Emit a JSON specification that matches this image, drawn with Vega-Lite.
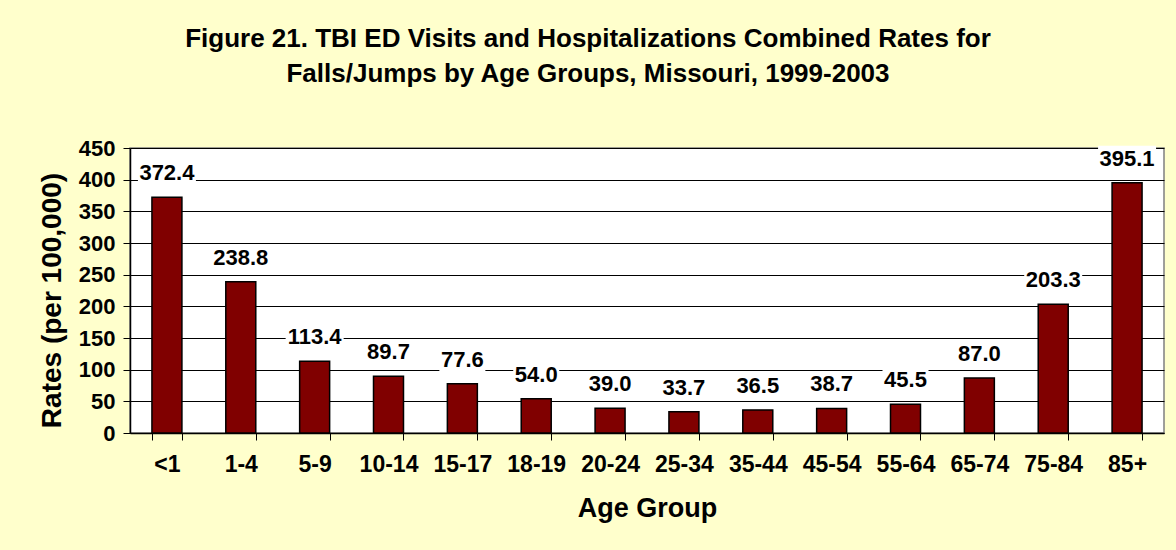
{
  "$schema": "https://vega.github.io/schema/vega-lite/v6.json",
  "width": 1034,
  "height": 285,
  "autosize": {"type": "none"},
  "padding": {"left": 130, "top": 148, "right": 12, "bottom": 117},
  "background": "#FFFFCC",
  "title": {
    "text": ["Figure 21. TBI ED Visits and Hospitalizations Combined Rates for", "Falls/Jumps by Age Groups, Missouri, 1999-2003"],
    "font": "Liberation Sans",
    "fontSize": 26,
    "fontWeight": "bold",
    "color": "black",
    "anchor": "middle",
    "dx": -59,
    "offset": 50,
    "lineHeight": 35
  },
  "config": {
    "view": {"stroke": "#808080", "fill": "white", "strokeWidth": 1.5},
    "axis": {
      "labelFont": "Liberation Sans",
      "labelFontWeight": "bold",
      "labelColor": "black",
      "titleFont": "Liberation Sans",
      "titleFontWeight": "bold",
      "titleColor": "black",
      "domainColor": "black",
      "tickColor": "black",
      "gridColor": "black",
      "gridWidth": 1
    }
  },
  "data": {
    "values": [
      {"age": "<1", "rate": 372.4},
      {"age": "1-4", "rate": 238.8},
      {"age": "5-9", "rate": 113.4},
      {"age": "10-14", "rate": 89.7},
      {"age": "15-17", "rate": 77.6},
      {"age": "18-19", "rate": 54.0},
      {"age": "20-24", "rate": 39.0},
      {"age": "25-34", "rate": 33.7},
      {"age": "35-44", "rate": 36.5},
      {"age": "45-54", "rate": 38.7},
      {"age": "55-64", "rate": 45.5},
      {"age": "65-74", "rate": 87.0},
      {"age": "75-84", "rate": 203.3},
      {"age": "85+", "rate": 395.1}
    ]
  },
  "encoding": {
    "x": {
      "field": "age",
      "type": "nominal",
      "sort": null,
      "scale": {"paddingInner": 0.594, "paddingOuter": 0.297},
      "axis": {
        "title": "Age Group",
        "titleFontSize": 27,
        "titlePadding": 19,
        "labelFontSize": 23,
        "labelAngle": 0,
        "labelPadding": 13,
        "tickSize": 7,
        "tickBand": "extent",
        "domainWidth": 1.5,
        "grid": false
      }
    },
    "y": {
      "field": "rate",
      "type": "quantitative",
      "scale": {"domain": [0, 450], "nice": false},
      "axis": {
        "title": "Rates (per 100,000)",
        "titleFontSize": 28,
        "titlePadding": 12,
        "titleY": 152,
        "labelFontSize": 22,
        "labelPadding": 8,
        "values": [0, 50, 100, 150, 200, 250, 300, 350, 400, 450],
        "tickSize": 7,
        "domainWidth": 1.5,
        "grid": true
      }
    }
  },
  "layer": [
    {
      "mark": {"type": "bar", "color": "#800000", "stroke": "black", "strokeWidth": 1.5}
    },
    {
      "mark": {"type": "tick", "color": "white", "opacity": 1, "thickness": 26, "yOffset": -24, "orient": "horizontal"},
      "encoding": {
        "size": {"condition": {"test": "datum.rate >= 100", "value": 58}, "value": 46}
      }
    },
    {
      "mark": {"type": "text", "font": "Liberation Sans", "fontWeight": "bold", "fontSize": 22, "color": "black", "baseline": "middle", "dy": -24},
      "encoding": {
        "text": {"field": "rate", "type": "quantitative", "format": ".1f"}
      }
    }
  ]
}
